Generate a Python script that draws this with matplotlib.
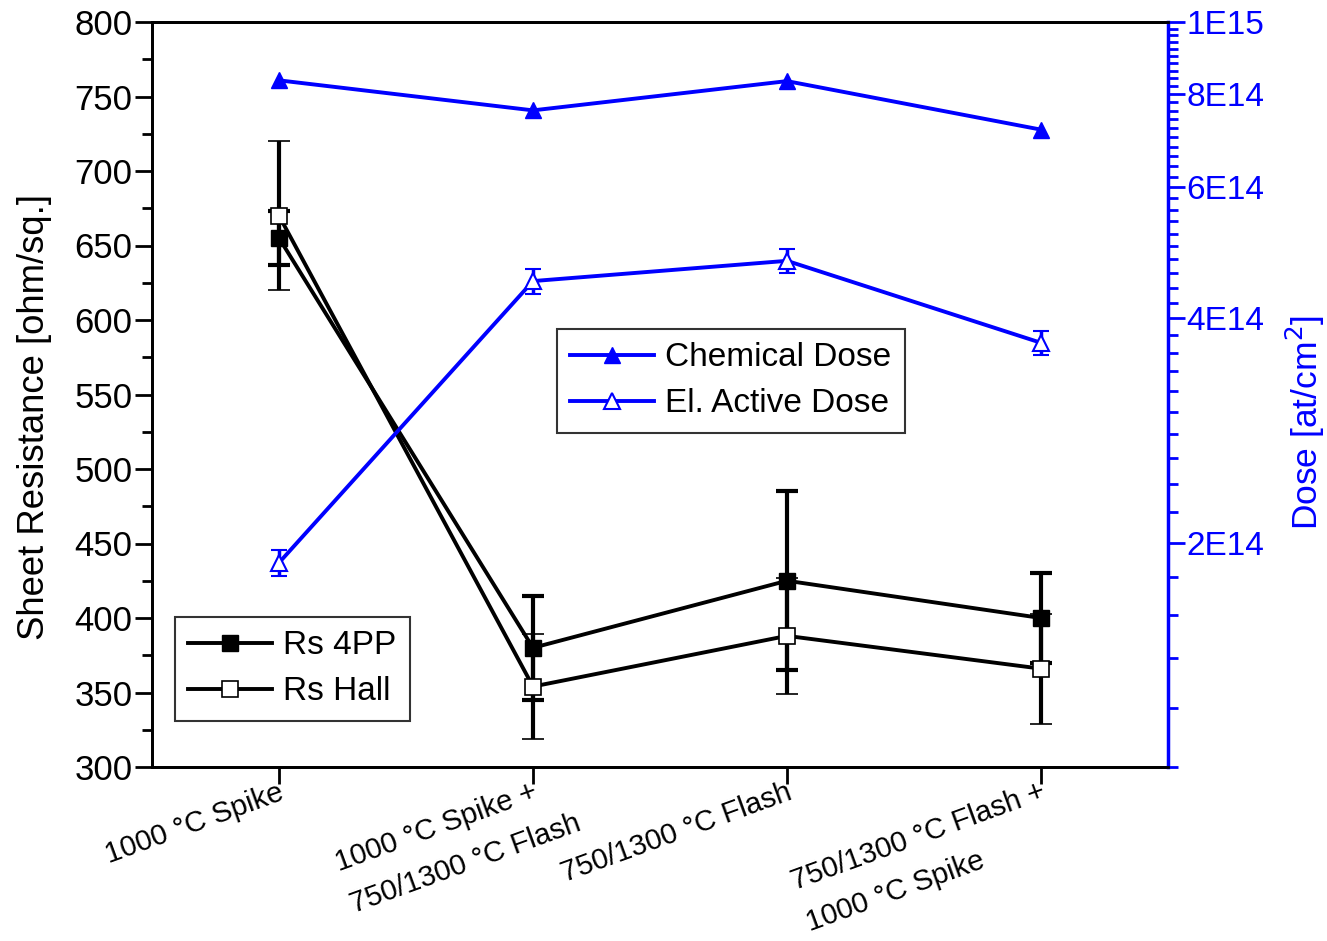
import matplotlib
matplotlib.use("Agg")
import matplotlib.pyplot as plt
from matplotlib.ticker import FixedLocator, FixedFormatter, NullFormatter
from matplotlib.lines import Line2D
from matplotlib.transforms import offset_copy
import numpy as np

plt.rcParams['font.family'] = ['Liberation Sans', 'DejaVu Sans']

categories = ["1000 °C Spike",
              "1000 °C Spike +\n750/1300 °C Flash",
              "750/1300 °C Flash",
              "750/1300 °C Flash +\n1000 °C Spike"]
rs_4pp = [655, 380, 425, 400]
rs_4pp_err = [18, 35, 60, 30]
rs_hall = [670, 354, 388, 366]
rs_hall_err = [50, 35, 39, 37]
chem_dose = [8.35e14, 7.61e14, 8.33e14, 7.17e14]
active_dose = [1.88e14, 4.49e14, 4.78e14, 3.71e14]
active_dose_err = [0.075e14, 0.17e14, 0.18e14, 0.14e14]

dose_major = [2e14, 4e14, 6e14, 8e14, 1e15]
dose_labels = ["2E14", "4E14", "6E14", "8E14", "1E15"]
left_ticks = list(range(300, 801, 50))

BLUE = '#0000ff'
W, H = 1327, 941
fig = plt.figure(figsize=(W / 100, H / 100), dpi=100)
ax = fig.add_axes([152 / W, 1 - 767 / H, (1168 - 152) / W, (767 - 22) / H])
ax2 = ax.twinx()

x = np.arange(len(categories))

ax.errorbar(x, rs_4pp, yerr=rs_4pp_err, color='black', lw=2.8, marker='s', ms=11,
            mfc='black', mec='black', capsize=8, capthick=3, elinewidth=3, zorder=3)
ax.errorbar(x, rs_hall, yerr=rs_hall_err, color='black', lw=2.8, marker='s', ms=11,
            mfc='white', mec='black', mew=1.2, capsize=8, capthick=3, elinewidth=3, zorder=4)

ax.set_xlim(-0.5, 3.5)
ax.set_ylim(300, 800)
ax.yaxis.set_major_locator(FixedLocator(left_ticks))
ax.yaxis.set_minor_locator(FixedLocator(list(range(325, 800, 50))))
ax.tick_params(axis='y', which='major', direction='out', length=12, width=2, labelsize=25, pad=2)
ax.tick_params(axis='y', which='minor', direction='out', length=7, width=2)
ax.tick_params(axis='x', which='major', direction='out', length=12, width=2)
ax.set_xticks(x)
ax.set_xticklabels([""] * len(categories))
ax.set_ylabel('Sheet Resistance [ohm/sq.]', fontsize=26.3)
ax.yaxis.set_label_coords(-0.098, 1 - (417 - 22) / 745)
for s in ['left', 'bottom', 'top']:
    ax.spines[s].set_linewidth(2)

# category labels: first line's right end at the tick, lines left-aligned
FS = 21.2
LH = 44  # line height in pixels
ang = np.deg2rad(20)
renderer = fig.canvas.get_renderer()
for xi, lab in zip(x, categories):
    lines = lab.split("\n")
    tmp = fig.text(0, 0, lines[0], fontsize=FS)
    w1 = tmp.get_window_extent(renderer).width
    tmp.remove()
    sx = -1 - w1 * np.cos(ang)
    sy = -11 - w1 * np.sin(ang)
    for k, line in enumerate(lines):
        dx = sx + k * LH * np.sin(ang)
        dy = sy - k * LH * np.cos(ang)
        tr = offset_copy(ax.get_xaxis_transform(), fig=fig, x=dx, y=dy, units='dots')
        ax.text(xi, 0, line, transform=tr, fontsize=FS, rotation=20, rotation_mode='anchor',
                ha='left', va='top', clip_on=False)

# right axis
ax2.plot(x, chem_dose, color=BLUE, lw=2.8, marker='^', ms=12, mfc=BLUE,
         mec=BLUE, zorder=3)
ax2.errorbar(x, active_dose, yerr=active_dose_err, color=BLUE, lw=2.8, marker='^', ms=12,
             mfc='white', mec=BLUE, mew=1.5, capsize=6, capthick=2.5, elinewidth=2.5, zorder=3)
ax2.set_yscale('log')
ax2.set_ylim(1e14, 1e15)
ax2.yaxis.set_major_locator(FixedLocator(dose_major))
ax2.yaxis.set_major_formatter(FixedFormatter(dose_labels))
minor = [v * 1e13 for v in range(10, 100, 2) if v not in (20, 40, 60, 80)]
ax2.yaxis.set_minor_locator(FixedLocator(minor))
ax2.yaxis.set_minor_formatter(NullFormatter())
ax2.tick_params(axis='y', which='major', direction='out', length=12, width=2, labelsize=24,
                colors=BLUE, labelcolor=BLUE, pad=1)
ax2.tick_params(axis='y', which='minor', direction='out', length=7, width=2, colors=BLUE)
ax2.spines['right'].set_color(BLUE)
ax2.spines['right'].set_linewidth(2.5)
for s in ['left', 'bottom', 'top']:
    ax2.spines[s].set_linewidth(2)
ax2.set_ylabel('Dose [at/cm$^2$]', fontsize=25.5, color=BLUE)
ax2.yaxis.set_label_coords((1284 - 152) / 1016, 1 - (422 - 22) / 745)

leg_kw = dict(loc='upper left', fontsize=24, frameon=True, fancybox=False, edgecolor='black',
              handlelength=2.5, borderpad=0.4, labelspacing=0.45, handletextpad=0.35,
              borderaxespad=0)
h1 = [Line2D([], [], color=BLUE, lw=2.8, marker='^', ms=12, mfc=BLUE, mec=BLUE),
      Line2D([], [], color=BLUE, lw=2.8, marker='^', ms=12, mfc='white', mec=BLUE, mew=1.5)]
leg1 = ax2.legend(h1, ['Chemical Dose', 'El. Active Dose'],
                  bbox_to_anchor=((557 - 152) / 1016, 1 - (329 - 22) / 745), **leg_kw)
leg1.get_frame().set_linewidth(1.5)
h2 = [Line2D([], [], color='black', lw=2.8, marker='s', ms=11, mfc='black', mec='black'),
      Line2D([], [], color='black', lw=2.8, marker='s', ms=11, mfc='white', mec='black', mew=1.2)]
leg2 = ax.legend(h2, ['Rs 4PP', 'Rs Hall'],
                 bbox_to_anchor=((175 - 152) / 1016, 1 - (617 - 22) / 745), **leg_kw)
leg2.get_frame().set_linewidth(1.5)

fig.savefig('out.png', dpi=100)
